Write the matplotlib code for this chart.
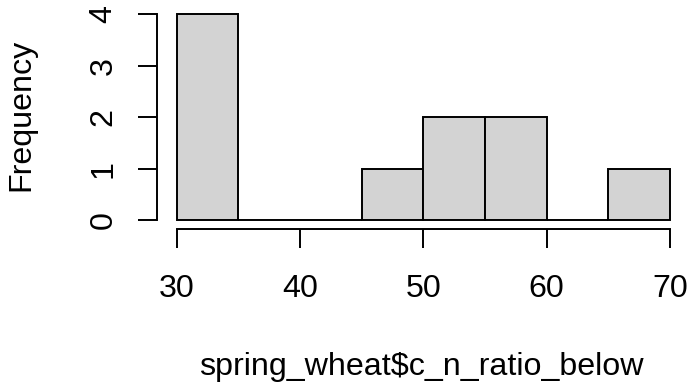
import matplotlib.pyplot as plt

# histogram bins
bin_edges = [30, 35, 40, 45, 50, 55, 60, 65, 70]
counts = [4, 0, 0, 1, 2, 2, 0, 1]
x_ticks = [30, 40, 50, 60, 70]
y_ticks = [0, 1, 2, 3, 4]

plt.rcParams["font.family"] = ["Liberation Sans", "DejaVu Sans"]
FS = 23.2

W, H = 689, 388
fig = plt.figure(figsize=(W / 100, H / 100), dpi=100)
# R-style plot region: data range plus 4% on each side
ax = fig.add_axes([157 / W, (H - 228.7) / H, (689.7 - 157) / W, (228.7 - 5.8) / H])

widths = [b - a for a, b in zip(bin_edges[:-1], bin_edges[1:])]
ax.bar(bin_edges[:-1], counts, width=widths, align="edge",
       color="#D3D3D3", edgecolor="black", linewidth=1.4)

xr = x_ticks[-1] - x_ticks[0]
yr = y_ticks[-1] - y_ticks[0]
ax.set_xlim(x_ticks[0] - 0.04 * xr, x_ticks[-1] + 0.04 * xr)
ax.set_ylim(y_ticks[0] - 0.04 * yr, y_ticks[-1] + 0.04 * yr)

for s in ["top", "right"]:
    ax.spines[s].set_visible(False)
ax.spines["bottom"].set_bounds(x_ticks[0], x_ticks[-1])
ax.spines["left"].set_bounds(y_ticks[0], y_ticks[-1])
for s in ["bottom", "left"]:
    ax.spines[s].set_linewidth(1.4)

ax.set_xticks(x_ticks)
ax.set_yticks(y_ticks)
ax.tick_params(axis="both", length=13.7, width=1.4, labelsize=FS)
ax.tick_params(axis="x", pad=19)
ax.tick_params(axis="y", pad=14)
for lab in ax.get_yticklabels():
    lab.set_rotation(90)
    lab.set_va("center")

fig.text(421.5 / W, (H - 375) / H, "spring_wheat$c_n_ratio_below",
         ha="center", va="baseline", fontsize=FS)
fig.text(6 / W, (H - 115) / H, "Frequency", rotation=90,
         ha="left", va="center", fontsize=FS)

fig.savefig("out.png", dpi=100)
